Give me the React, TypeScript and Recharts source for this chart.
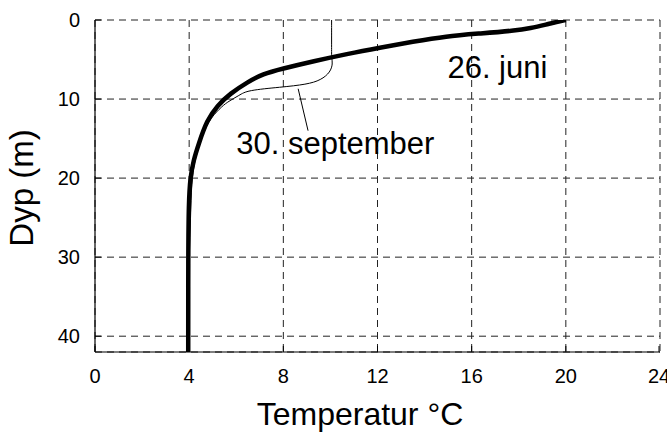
import {
  ComposedChart,
  Line,
  XAxis,
  YAxis,
  CartesianGrid,
  ReferenceLine,
  ReferenceDot,
} from "recharts";

const FONT = "'Liberation Sans', Arial, Helvetica, sans-serif";

// Temperature profiles (temperature in °C vs depth in m)
const juneTemp = [20, 19.6, 19.2, 18.5, 17.8, 16.4, 14.9, 13.5, 12.1, 10.7, 9.3, 7.9, 7.15, 6.45, 5.75, 5.2, 4.75, 4.4, 4.18, 4.05, 3.98, 3.96, 3.96];
const juneDepth = [0, 0.25, 0.55, 1.05, 1.35, 1.7, 2.05, 2.75, 3.5, 4.3, 5.2, 6.2, 6.8, 7.9, 9.3, 10.8, 12.7, 15.7, 17.8, 19.9, 23, 30, 42];

const septTemp = [10.05, 10.05, 10.05, 10.1, 10.0, 9.6, 9.0, 7.9, 6.45, 6.15, 5.6, 5.3, 4.82, 4.45, 4.22, 4.1, 4.06, 4.0, 3.97, 3.97];
const septDepth = [0, 4.0, 4.8, 5.5, 6.6, 7.6, 8.15, 8.5, 8.9, 9.5, 10.4, 11.2, 12.7, 15.5, 18, 20.5, 25, 30, 35, 42];

const tempTicks = [0, 4, 8, 12, 16, 20, 24];
const depthTicks = [0, 10, 20, 30, 40];

// pointer from the september label to its curve
const pointerFrom = { t: 9.05, d: 14.0 };
const pointerTo = { t: 8.63, d: 8.7 };

const juneLabel = { t: 14.97, d: 7.4, text: "26. juni" };
const septLabel = { t: 6.0, d: 17.0, text: "30. september" };

const juneData = juneTemp.map((t, i) => ({ t, d: juneDepth[i] }));
const septData = septTemp.map((t, i) => ({ t, d: septDepth[i] }));

/* eslint-disable @typescript-eslint/no-explicit-any */
function XTick({ x, y, payload }: any) {
  return (
    <g>
      <line x1={x} x2={x} y1={y} y2={y - 6} stroke="#000" strokeWidth={1} />
      <text x={x} y={y + 31} textAnchor="middle" fontSize={20} fontFamily={FONT} fill="#000">
        {payload.value}
      </text>
    </g>
  );
}

function YTick({ x, y, payload }: any) {
  return (
    <g>
      <line x1={x} x2={x + 6} y1={y} y2={y} stroke="#000" strokeWidth={1} />
      <text x={x - 15} y={y + 7} textAnchor="end" fontSize={20} fontFamily={FONT} fill="#000">
        {payload.value}
      </text>
    </g>
  );
}

const textShape = (text: string) => (props: any) => (
  <text x={props.cx} y={props.cy} fontSize={31} fontFamily={FONT} fill="#000">
    {text}
  </text>
);
/* eslint-enable @typescript-eslint/no-explicit-any */

export default function App() {
  return (
    <div style={{ position: "absolute", left: 0, top: 0, width: 667, height: 435, background: "#fff" }}>
      <ComposedChart
        width={667}
        height={435}
        margin={{ top: 20, right: 7, bottom: 0, left: 0 }}
      >
        <CartesianGrid stroke="#222" strokeDasharray="7 5" strokeWidth={1} />
        <XAxis
          type="number"
          dataKey="t"
          domain={[0, 24]}
          ticks={tempTicks}
          height={83}
          tickSize={0}
          tickMargin={0}
          tickLine={false}
          axisLine={{ stroke: "#000", strokeWidth: 1.2 }}
          tick={<XTick />}
          allowDataOverflow
          label={{
            content: () => (
              <text x={360} y={425} textAnchor="middle" fontSize={32} fontFamily={FONT} fill="#000">
                Temperatur °C
              </text>
            ),
          }}
        />
        <YAxis
          type="number"
          dataKey="d"
          domain={[0, 42]}
          ticks={depthTicks}
          reversed
          width={95}
          tickSize={0}
          tickMargin={0}
          tickLine={false}
          axisLine={{ stroke: "#000", strokeWidth: 1.2 }}
          tick={<YTick />}
          allowDataOverflow
          label={{
            content: () => (
              <text
                x={33}
                y={188}
                transform="rotate(-90, 33, 188)"
                textAnchor="middle"
                fontSize={33}
                fontFamily={FONT}
                fill="#000"
              >
                Dyp (m)
              </text>
            ),
          }}
        />
        <Line
          data={septData}
          dataKey="d"
          type="basis"
          stroke="#000"
          strokeWidth={1}
          dot={false}
          isAnimationActive={false}
        />
        <Line
          data={juneData}
          dataKey="d"
          type="basis"
          stroke="#000"
          strokeWidth={4.5}
          dot={false}
          isAnimationActive={false}
        />
        <ReferenceLine
          segment={[
            { x: pointerFrom.t, y: pointerFrom.d },
            { x: pointerTo.t, y: pointerTo.d },
          ]}
          stroke="#000"
          strokeWidth={1}
        />
        <ReferenceDot x={juneLabel.t} y={juneLabel.d} r={0} shape={textShape(juneLabel.text)} />
        <ReferenceDot x={septLabel.t} y={septLabel.d} r={0} shape={textShape(septLabel.text)} />
      </ComposedChart>
    </div>
  );
}
